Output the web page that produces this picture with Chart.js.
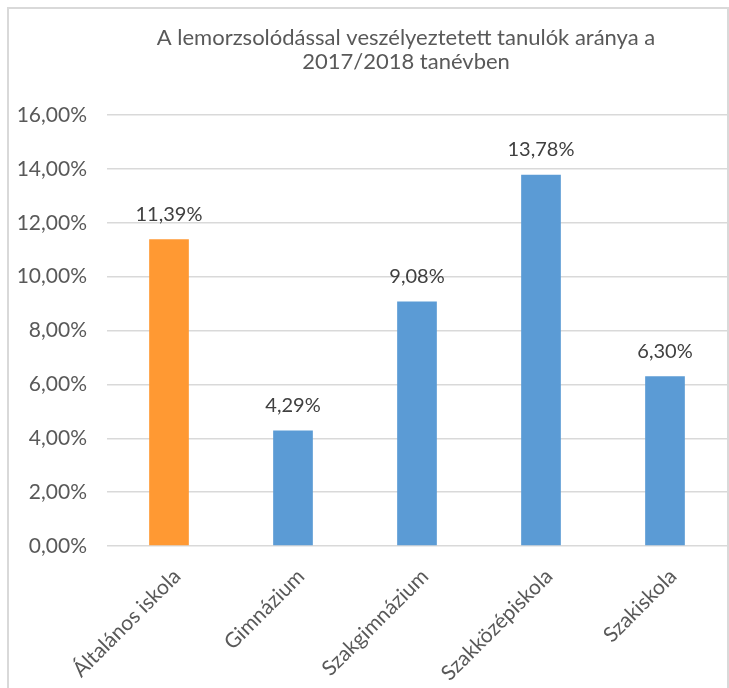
<!DOCTYPE html>
<html lang="hu">
<head>
    <meta charset="UTF-8">
    <title>Lemorzsolódással veszélyeztetett tanulók</title>
    <script src="https://cdn.jsdelivr.net/npm/chart.js"></script>
    <style>
        html, body { margin: 0; padding: 0; background: #fff; overflow: hidden; width: 729px; height: 688px; }
        .frame { position: absolute; left: 7px; top: 7px; width: 718px; height: 700px; border: 2px solid #d9d9d9; }
        canvas { display: block; }
    </style>
</head>
<body>
    <div class="frame">
        <canvas id="dropoutChart" width="718" height="700"></canvas>
    </div>

    <script>
        // Adatok a diagramról
        const titleLines = ['A lemorzsolódással veszélyeztetett tanulók aránya a', '2017/2018 tanévben'];
        const schoolTypes = ['Általános iskola', 'Gimnázium', 'Szakgimnázium', 'Szakközépiskola', 'Szakiskola'];
        const riskShare = [11.39, 4.29, 9.08, 13.78, 6.30];
        const barColors = ['#ff9933', '#5b9bd5', '#5b9bd5', '#5b9bd5', '#5b9bd5'];
        const yMin = 0, yMax = 16, yStep = 2;

        const fmt = v => v.toFixed(2).replace('.', ',') + '%';
        const fontFamily = 'Lato, "Open Sans", sans-serif';

        // title centred over the plot like in Excel
        const excelTitle = {
            id: 'excelTitle',
            afterDraw(chart) {
                const ctx = chart.ctx;
                const cx = (chart.chartArea.left + chart.chartArea.right) / 2 - 11;
                ctx.save();
                ctx.font = '22px ' + fontFamily;
                ctx.fillStyle = '#595959';
                ctx.textAlign = 'center';
                ctx.textBaseline = 'middle';
                titleLines.forEach((line, i) => ctx.fillText(line, cx, 29 + i * 24));
                ctx.restore();
            }
        };

        // simple value labels above the bars
        const valueLabels = {
            id: 'valueLabels',
            afterDatasetsDraw(chart) {
                const ctx = chart.ctx;
                const meta = chart.getDatasetMeta(0);
                ctx.save();
                ctx.font = '20px ' + fontFamily;
                ctx.fillStyle = '#404040';
                ctx.textAlign = 'center';
                ctx.textBaseline = 'middle';
                meta.data.forEach((bar, i) => {
                    ctx.fillText(fmt(riskShare[i]), bar.x, bar.y - 25);
                });
                ctx.restore();
            }
        };

        const ctx = document.getElementById('dropoutChart').getContext('2d');
        new Chart(ctx, {
            type: 'bar',
            data: {
                labels: schoolTypes,
                datasets: [{
                    data: riskShare,
                    backgroundColor: barColors,
                    borderWidth: 0,
                    barPercentage: 0.64,
                    categoryPercentage: 0.5
                }]
            },
            options: {
                responsive: false,
                animation: false,
                layout: { padding: { left: 0, right: 0, top: 106, bottom: 0 } },
                plugins: {
                    legend: { display: false },
                    tooltip: { enabled: false },
                    title: { display: false }
                },
                scales: {
                    x: {
                        grid: { display: false },
                        border: { display: false },
                        ticks: {
                            color: '#595959',
                            font: { family: fontFamily, size: 21 },
                            minRotation: 45,
                            maxRotation: 45,
                            autoSkip: false,
                            padding: 10,
                            labelOffset: 8
                        },
                        afterFit(scale) { scale.height = 163; }
                    },
                    y: {
                        min: yMin,
                        max: yMax,
                        grid: { color: '#d9d9d9', lineWidth: 1.5, drawTicks: false },
                        border: { display: false },
                        ticks: {
                            stepSize: yStep,
                            color: '#595959',
                            font: { family: fontFamily, size: 21 },
                            padding: 20,
                            callback: v => fmt(v)
                        },
                        afterFit(scale) { scale.width = 98; }
                    }
                }
            },
            plugins: [excelTitle, valueLabels]
        });
    </script>
</body>
</html>
